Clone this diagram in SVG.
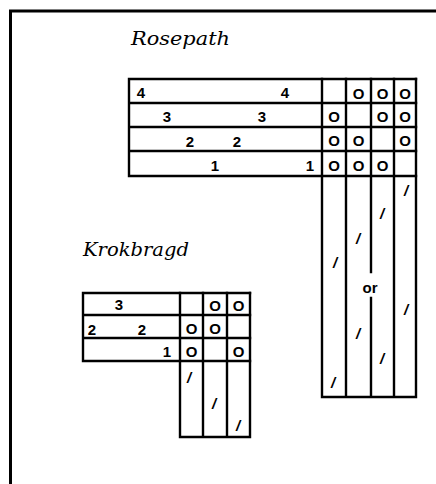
<svg xmlns="http://www.w3.org/2000/svg" width="436" height="484" viewBox="0 0 436 484">
<style>
.ln{stroke:#000;stroke-width:2.4;fill:none;stroke-linecap:square}
.fr{stroke:#000;stroke-width:3;fill:none}
.num{font-family:"Liberation Sans",Arial,sans-serif;font-weight:bold;font-size:15px;text-anchor:middle;fill:#000}
.o{font-family:"Liberation Sans",Arial,sans-serif;font-weight:bold;font-size:15px;text-anchor:middle;fill:#000}
.sl{font-family:"Liberation Sans",Arial,sans-serif;font-weight:bold;font-style:italic;font-size:15px;text-anchor:middle;fill:#000}
.ttl{font-family:"DejaVu Serif",serif;font-style:italic;font-size:19px;fill:#000}
</style>
<rect width="436" height="484" fill="#fff"/>
<g id="frame">
<path class="fr" d="M10.5,484 V11 H436"/>
</g>
<g id="rosepath">
<text class="ttl" x="131" y="45" textLength="99" lengthAdjust="spacingAndGlyphs">Rosepath</text>
<g id="rosepath-grid">
<path class="ln" d="M129,79 H416 M129,103 H416 M129,127 H416 M129,151 H416 M129,176 H416 M129,79 V176"/>
<path class="ln" d="M322,79 V397 M346,79 V397 M371,79 V272 M371,298 V397 M394,79 V397 M416,79 V397 M322,397 H416"/>
</g>
<g id="rosepath-numbers">
<text class="num" x="141" y="98">4</text><text class="num" x="285" y="98">4</text>
<text class="num" x="167" y="122">3</text><text class="num" x="262" y="122">3</text>
<text class="num" x="190" y="147">2</text><text class="num" x="237" y="147">2</text>
<text class="num" x="215" y="171">1</text><text class="num" x="310" y="171">1</text>
</g>
<g id="rosepath-ties">
<text class="o" x="358.5" y="99">O</text><text class="o" x="382.5" y="99">O</text><text class="o" x="405" y="99">O</text>
<text class="o" x="334" y="122">O</text><text class="o" x="382.5" y="122">O</text><text class="o" x="405" y="122">O</text>
<text class="o" x="334" y="146">O</text><text class="o" x="358.5" y="146">O</text><text class="o" x="405" y="146">O</text>
<text class="o" x="334" y="171">O</text><text class="o" x="358.5" y="171">O</text><text class="o" x="382.5" y="171">O</text>
</g>
<g id="rosepath-treadling">
<text class="sl" x="406" y="196">/</text>
<text class="sl" x="382" y="219">/</text>
<text class="sl" x="358" y="244">/</text>
<text class="sl" x="335" y="268">/</text>
<text class="num" x="370" y="293">or</text>
<text class="sl" x="406" y="315">/</text>
<text class="sl" x="358" y="339">/</text>
<text class="sl" x="382" y="364">/</text>
<text class="sl" x="333" y="388">/</text>
</g>
</g>
<g id="krokbragd">
<text class="ttl" x="83" y="256" textLength="106" lengthAdjust="spacingAndGlyphs">Krokbragd</text>
<g id="krokbragd-grid">
<path class="ln" d="M83,293 H250 M83,315 H250 M83,338 H250 M83,361 H250 M83,293 V361"/>
<path class="ln" d="M180,293 V437 M203,293 V437 M227,293 V437 M250,293 V437 M180,437 H250"/>
</g>
<g id="krokbragd-numbers">
<text class="num" x="119" y="310">3</text>
<text class="num" x="92" y="335">2</text><text class="num" x="142" y="335">2</text>
<text class="num" x="167" y="357">1</text>
</g>
<g id="krokbragd-ties">
<text class="o" x="215" y="311">O</text><text class="o" x="238.5" y="311">O</text>
<text class="o" x="191.5" y="334">O</text><text class="o" x="215" y="334">O</text>
<text class="o" x="191.5" y="357">O</text><text class="o" x="238.5" y="357">O</text>
</g>
<g id="krokbragd-treadling">
<text class="sl" x="189" y="383">/</text>
<text class="sl" x="214" y="409">/</text>
<text class="sl" x="238" y="431">/</text>
</g>
</g>
</svg>
